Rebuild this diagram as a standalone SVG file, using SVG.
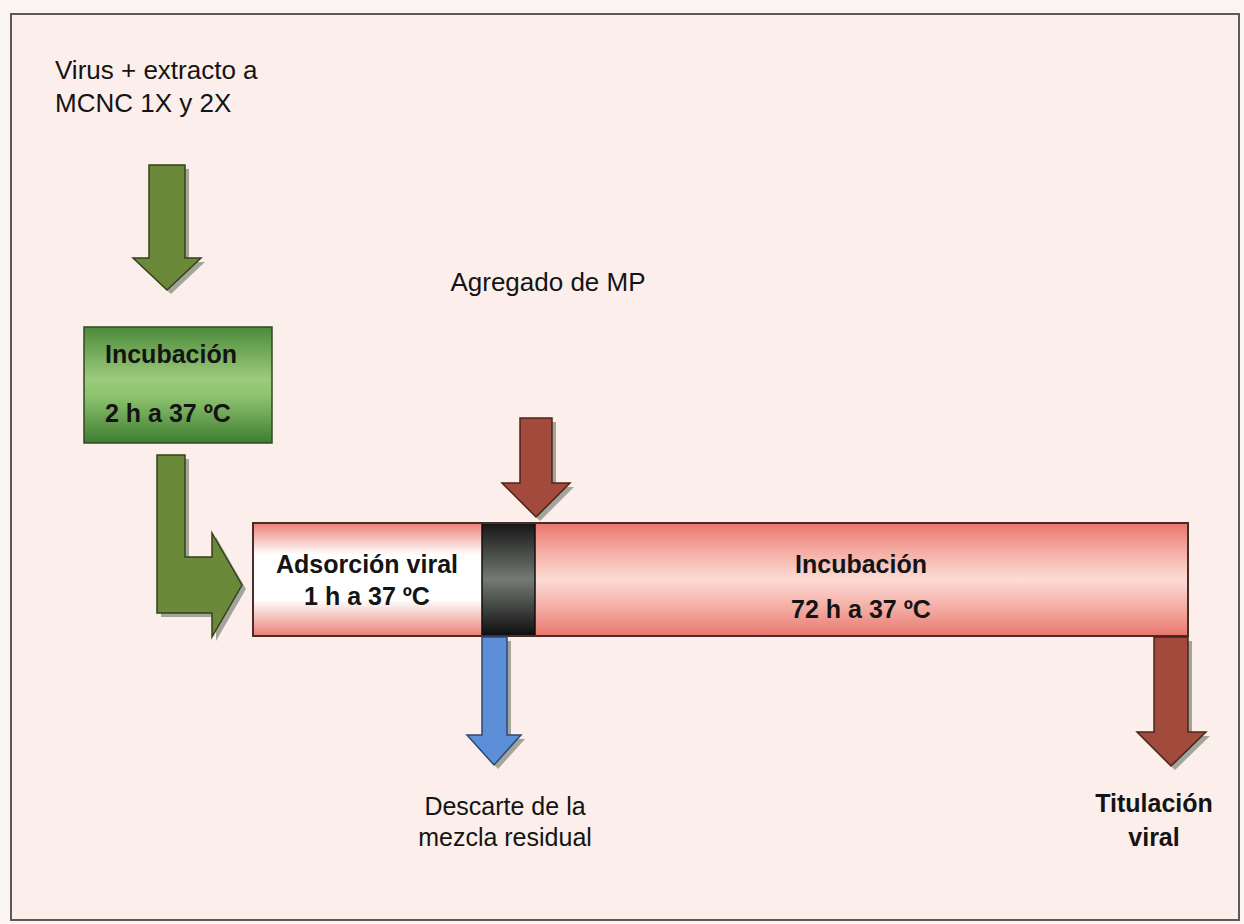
<svg xmlns="http://www.w3.org/2000/svg" width="1244" height="924" viewBox="0 0 1244 924">
  <defs>
    <linearGradient id="gBox" x1="0" y1="0" x2="0" y2="1">
      <stop offset="0" stop-color="#4c8a3a"/>
      <stop offset="0.45" stop-color="#9ccc7c"/>
      <stop offset="0.6" stop-color="#8cc26e"/>
      <stop offset="1" stop-color="#3f7d30"/>
    </linearGradient>
    <linearGradient id="gPink" x1="0" y1="0" x2="0" y2="1">
      <stop offset="0" stop-color="#e8766c"/>
      <stop offset="0.22" stop-color="#f3a79e"/>
      <stop offset="0.5" stop-color="#fcdcd6"/>
      <stop offset="0.78" stop-color="#f3a79e"/>
      <stop offset="1" stop-color="#e8766c"/>
    </linearGradient>
    <linearGradient id="gWhite" x1="0" y1="0" x2="0" y2="1">
      <stop offset="0" stop-color="#ea7f76"/>
      <stop offset="0.28" stop-color="#ffffff"/>
      <stop offset="0.68" stop-color="#ffffff"/>
      <stop offset="1" stop-color="#ea7f76"/>
    </linearGradient>
    <linearGradient id="gDark" x1="0" y1="0" x2="0" y2="1">
      <stop offset="0" stop-color="#151515"/>
      <stop offset="0.5" stop-color="#747a74"/>
      <stop offset="1" stop-color="#0e0e0e"/>
    </linearGradient>
  </defs>
  <style>
    .txt { font-family: "Liberation Sans", Arial, sans-serif; font-size: 25px; fill: #141414; }
    .lg { font-size: 26px; }
    .b { font-weight: bold; }
    .shadow { fill: #7d8577; opacity: 0.7; }
    .green { fill: #6a8a3a; stroke: #34401c; stroke-width: 1.5; }
    .brown { fill: #a24a3c; stroke: #4a241c; stroke-width: 1.5; }
    .blue { fill: #5d8fd8; stroke: #2c4870; stroke-width: 1.5; }
  </style>

  <!-- page and frame -->
  <rect x="0" y="0" width="1244" height="924" fill="#faf5f3"/>
  <rect x="11" y="14" width="1228" height="906" fill="#fcefeb" stroke="#5a5a5a" stroke-width="2"/>

  <!-- start label -->
  <g id="start-label">
    <text class="txt lg" x="55" y="79">Virus + extracto a</text>
    <text class="txt lg" x="55" y="112">MCNC 1X y 2X</text>
  </g>

  <!-- pre-incubation box -->
  <g id="pre-incubation">
    <rect x="84" y="327" width="188" height="116" fill="url(#gBox)" stroke="#2f4a22" stroke-width="1.5"/>
    <text class="txt b" x="105" y="363">Incubación</text>
    <text class="txt b" x="105" y="422">2 h a 37 ºC</text>
  </g>

  <!-- timeline bar -->
  <g id="timeline">
    <rect x="253" y="523" width="229" height="113" fill="url(#gWhite)"/>
    <rect x="535" y="523" width="653" height="113" fill="url(#gPink)"/>
    <rect x="482" y="523" width="53" height="113" fill="url(#gDark)" stroke="#111" stroke-width="1.5"/>
    <rect x="253" y="523" width="935" height="113" fill="none" stroke="#4a2c28" stroke-width="2"/>
  </g>

  <g id="adsorption">
    <text class="txt b" x="367" y="573" text-anchor="middle">Adsorción viral</text>
    <text class="txt b" x="367" y="605" text-anchor="middle">1 h a 37 ºC</text>
  </g>

  <g id="incubation">
    <text class="txt b" x="861" y="573" text-anchor="middle">Incubación</text>
    <text class="txt b" x="861" y="618" text-anchor="middle">72 h a 37 ºC</text>
  </g>

  <!-- block arrows -->
  <g id="connectors">
    <path class="shadow" transform="translate(4,4)" d="M149,165 H185 V258 H201 L167,290 L133,258 H149 Z"/>
    <path class="green" d="M149,165 H185 V258 H201 L167,290 L133,258 H149 Z"/>

    <path class="shadow" transform="translate(4,4)" d="M157,455 H185 V557 H212 V533 L242,585 L212,637 V613 H157 Z"/>
    <path class="green" d="M157,455 H185 V557 H212 V533 L242,585 L212,637 V613 H157 Z"/>

    <path class="shadow" transform="translate(4,4)" d="M520,418 H552 V483 H570 L536,517 L502,483 H520 Z"/>
    <path class="brown" d="M520,418 H552 V483 H570 L536,517 L502,483 H520 Z"/>

    <path class="shadow" transform="translate(4,4)" d="M482,637 H507 V735 H521 L494,765 L467,735 H482 Z"/>
    <path class="blue" d="M482,637 H507 V735 H521 L494,765 L467,735 H482 Z"/>

    <path class="shadow" transform="translate(4,4)" d="M1154,637 H1188 V732 H1206 L1171,766 L1137,732 H1154 Z"/>
    <path class="brown" d="M1154,637 H1188 V732 H1206 L1171,766 L1137,732 H1154 Z"/>
  </g>

  <!-- arrow labels -->
  <g id="mp-label">
    <text class="txt lg" x="548" y="291" text-anchor="middle">Agregado de MP</text>
  </g>
  <g id="discard-label">
    <text class="txt" x="505" y="815" text-anchor="middle">Descarte de la</text>
    <text class="txt" x="505" y="846" text-anchor="middle">mezcla residual</text>
  </g>
  <g id="titration-label">
    <text class="txt b" x="1154" y="812" text-anchor="middle">Titulación</text>
    <text class="txt b" x="1154" y="846" text-anchor="middle">viral</text>
  </g>
</svg>
